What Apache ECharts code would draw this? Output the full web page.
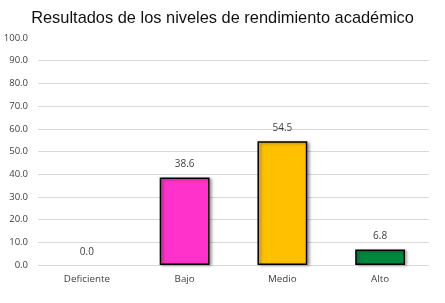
<!DOCTYPE html>
<html>
<head>
<meta charset="utf-8">
<script src="https://cdn.jsdelivr.net/npm/echarts@6/dist/echarts.min.js"></script>
<style>
  html, body { margin: 0; padding: 0; background: #fff; }
  #chart { width: 445px; height: 303px; }
</style>
</head>
<body>
<div id="chart"></div>
<script>
// niveles de rendimiento
const categories = ['Deficiente', 'Bajo', 'Medio', 'Alto']
const values = [0.0, 38.6, 54.5, 6.8]
const barColors = ['#FF33CC', '#FF33CC', '#FFC000', '#00873E']

let myChart = echarts.init(document.getElementById('chart'))
myChart.setOption({
  animation: false,
  title: {
    text: 'Resultados de los niveles de rendimiento académico',
    left: 'center',
    top: 5,
    textStyle: {
      fontFamily: 'Liberation Sans',
      fontSize: 16.4,
      fontWeight: 'normal',
      color: '#111'
    }
  },
  grid: {
    left: 38,
    right: 16,
    top: 38,
    bottom: 38
  },
  xAxis: {
    type: 'category',
    data: categories,
    axisLine: { show: false },
    axisTick: { show: false },
    axisLabel: {
      color: '#404040',
      fontFamily: 'Open Sans',
      fontSize: 9.8,
      margin: 9
    }
  },
  yAxis: {
    type: 'value',
    min: 0,
    max: 100,
    interval: 10,
    axisLabel: {
      color: '#404040',
      fontFamily: 'Open Sans',
      fontSize: 9.5,
      margin: 10,
      formatter: v => v.toFixed(1)
    },
    splitLine: {
      show: true,
      showMaxLine: false,
      lineStyle: { color: '#D9D9D9', width: 1 }
    }
  },
  series: [
    {
      type: 'bar',
      barWidth: '51%',
      data: values.map((v, i) => ({
        value: v,
        itemStyle: v === 0
          ? { color: 'transparent', borderWidth: 0, shadowColor: 'transparent' }
          : { color: barColors[i] }
      })),
      itemStyle: {
        borderColor: '#000',
        borderWidth: 1.5,
        shadowColor: 'rgba(0,0,0,0.35)',
        shadowBlur: 3,
        shadowOffsetX: 2,
        shadowOffsetY: 1
      },
      label: {
        show: true,
        position: 'top',
        distance: 8,
        color: '#404040',
        fontFamily: 'Open Sans',
        fontSize: 10,
        formatter: p => p.value.toFixed(1)
      }
    }
  ]
})
</script>
</body>
</html>
